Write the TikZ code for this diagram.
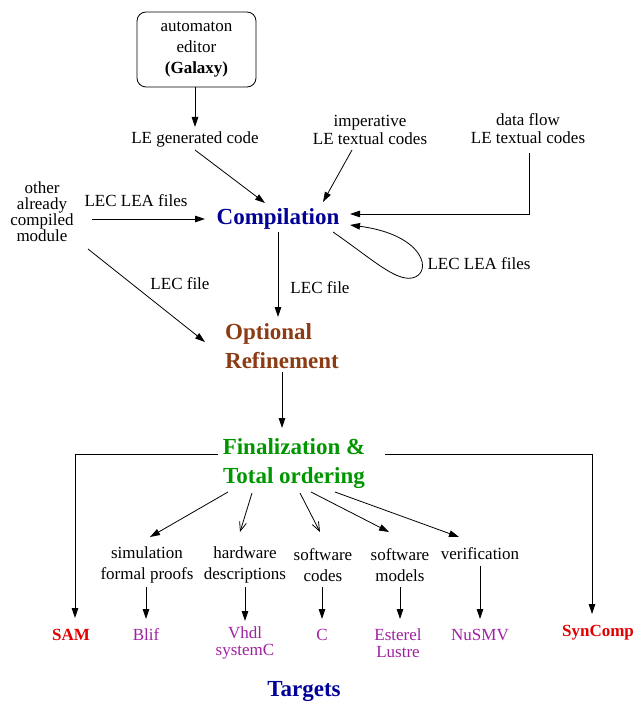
\documentclass[tikz,border=0pt]{standalone}
\usepackage{fontspec}
\setmainfont{Liberation Serif}
\usetikzlibrary{arrows.meta,calc}
\definecolor{cblue}{RGB}{0,0,150}
\definecolor{cbrown}{RGB}{140,60,20}
\definecolor{cgreen}{RGB}{0,150,0}
\definecolor{cred}{RGB}{225,0,0}
\definecolor{cpurple}{RGB}{160,32,160}
\begin{document}
\begin{tikzpicture}[x=1pt,y=-1pt,
  txt/.style={font=\fontsize{17}{18}\selectfont, align=center, inner sep=0pt},
  ttl/.style={font=\bfseries\fontsize{23}{29}\selectfont, align=center, inner sep=0pt},
  tgt/.style={font=\fontsize{17}{17}\selectfont, align=center, inner sep=0pt, text=cpurple},
  tgtb/.style={font=\bfseries\fontsize{17}{17}\selectfont, align=center, inner sep=0pt, text=cred},
  arr/.style={draw, line width=0.8pt, -{Triangle[length=10pt,width=6.5pt]}},
  oarr/.style={draw, line width=0.8pt, -{Straight Barb[length=9pt,width=7pt]}},
  ln/.style={draw, line width=0.8pt}]
\useasboundingbox (0,0) rectangle (636,703);

% nodes
\node[draw, line width=0.8pt, rounded corners=9pt, minimum width=119pt, minimum height=75pt,
      font=\fontsize{17}{21}\selectfont, align=center, inner sep=0pt] (gal) at (196.5,49.5)
      {automaton\\editor\\\textbf{(Galaxy)}};
\node[txt] (legen) at (195,139) {LE generated code};
\node[txt] (imp) at (370,130) {imperative\\LE textual codes};
\node[txt] (df) at (528,129) {data flow\\LE textual codes};
\node[ttl, text=cblue] (comp) at (278,219) {Compilation};
\node[txt, font=\fontsize{17}{16}\selectfont] (other) at (42,212) {other\\already\\compiled\\module};
\node[txt] (lecl1) at (136,201) {LEC LEA files};
\node[txt] (lecl2) at (479,264) {LEC LEA files};
\node[txt] (lecf1) at (180,284) {LEC file};
\node[txt] (lecf2) at (320,288) {LEC file};
\node[ttl, text=cbrown, align=left] (opt) at (282,346) {Optional\\Refinement};
\node[ttl, text=cgreen] (fin) at (294,464) {Finalization \&\\Total ordering};
\node[txt, font=\fontsize{17}{21}\selectfont] (sim) at (147,565) {simulation\\formal proofs};
\node[txt, font=\fontsize{17}{21}\selectfont] (hw) at (245,565) {hardware\\descriptions};
\node[txt, font=\fontsize{17}{21}\selectfont] (sc) at (323,565) {software\\codes};
\node[txt, font=\fontsize{17}{21}\selectfont] (sm) at (400,565) {software\\models};
\node[txt] (ver) at (480,554) {verification};
\node[tgtb] (sam) at (71,635) {SAM};
\node[tgt] (blif) at (146,635) {Blif};
\node[tgt] (vhdl) at (245,643) {Vhdl\\systemC};
\node[tgt] (c) at (322,635) {C};
\node[tgt] (est) at (398,643) {Esterel\\Lustre};
\node[tgt] (nusmv) at (480,635) {NuSMV};
\node[tgtb] (syn) at (598,633) {SynComp};
\node[ttl, text=cblue] (targ) at (304,691) {Targets};

% connectors
\draw[arr] ($(gal.south)+(-1.5,0)$) -- ($(legen)+(0,-12)$);
\draw[arr] ($(legen)+(0,11)$) -- ($(comp)+(-13,-16)$);
\draw[arr] ($(imp)+(-18,20)$) -- ($(comp)+(45,-17)$);
\draw[arr] ($(df)+(1,24)$) |- ($(comp)+(72,-5)$);
\draw[arr] ($(other)+(50,7)$) -- ($(comp)+(-73,0)$);
\draw[arr] ($(comp)+(55,13)$) .. controls (372,259) and (395,281) .. (412,278)
           .. controls (433,274) and (426,235) .. ($(comp)+(72,6)$);
\draw[arr] ($(comp)+(0,13)$) -- ($(opt)+(-4,-29)$);
\draw[arr] ($(other)+(46,37)$) -- ($(opt)+(-77,-4)$);
\draw[arr] ($(opt)+(0,26)$) -- ($(fin)+(-12,-36)$);
\draw[arr] ($(fin)+(-76,-10)$) -| ($(sam)+(4,-17)$);
\draw[arr] ($(fin)+(91,-10)$) -| ($(syn)+(-6,-19)$);
\draw[arr] ($(fin)+(-66,28)$) -- ($(sim)+(3,-28)$);
\draw[oarr] ($(fin)+(-42,29)$) -- ($(hw)+(-5,-33)$);
\draw[oarr] ($(fin)+(6,29)$) -- ($(sc)+(-3,-33)$);
\draw[arr] ($(fin)+(17,28)$) -- ($(sm)+(-11,-33)$);
\draw[arr] ($(fin)+(41,28)$) -- ($(ver)+(-21,-17)$);
\draw[arr] ($(sim)+(-1,22)$) -- ($(blif)+(0,-16)$);
\draw[arr] ($(hw)+(0,22)$) -- ($(vhdl)+(0,-22)$);
\draw[arr] ($(sc)+(-1,22)$) -- ($(c)+(0,-16)$);
\draw[arr] ($(sm)+(0,22)$) -- ($(est)+(2,-24)$);
\draw[arr] ($(ver)+(0,12)$) -- ($(nusmv)+(0,-16)$);
\end{tikzpicture}
\end{document}
